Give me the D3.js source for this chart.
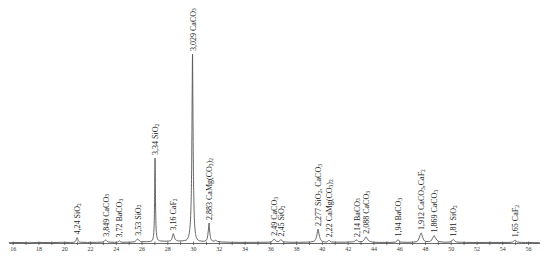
<!DOCTYPE html>
<html>
<head>
<meta charset="utf-8">
<script src="https://cdn.jsdelivr.net/npm/d3@7"></script>
<style>
  body { margin: 0; background: #fff; }
  svg { display: block; }
</style>
</head>
<body>
<script>
// diffraction trace: [2theta, intensity]
const trace = [
  [15.7, 0.3], [16.5, 0.5], [17.3, 0.3], [18.2, 0.6], [19.0, 0.4], [19.8, 0.7], [20.5, 0.5],
  [20.75, 0.8], [20.88, 1.8], [20.95, 3.6], [21.0, 5.5], [21.05, 3.6], [21.12, 1.8], [21.25, 0.8],
  [21.8, 0.6], [22.5, 0.7],
  [22.98, 0.9], [23.1, 1.6], [23.17, 2.6], [23.22, 3.2], [23.27, 2.6], [23.35, 1.5], [23.5, 0.9],
  [23.9, 0.7],
  [24.12, 0.8], [24.22, 1.5], [24.28, 2.4], [24.34, 1.5], [24.45, 0.8],
  [25.0, 0.8], [25.3, 1.0],
  [25.45, 1.2], [25.58, 2.4], [25.65, 3.6], [25.7, 4.2], [25.76, 3.4], [25.85, 2.0], [26.0, 1.3],
  [26.4, 1.3], [26.65, 1.6],
  [26.8, 2.2], [26.9, 5], [26.97, 14], [27.01, 38], [27.05, 85], [27.09, 40], [27.13, 16], [27.2, 6], [27.3, 3],
  [27.5, 2.0], [27.8, 1.8], [28.1, 1.9],
  [28.25, 2.4], [28.36, 4.5], [28.43, 8], [28.47, 9.5], [28.52, 7.5], [28.6, 4.2], [28.72, 2.6],
  [28.9, 2.0], [29.2, 2.2], [29.45, 2.8],
  [29.6, 5], [29.73, 12], [29.83, 32], [29.9, 85], [29.94, 160], [29.96, 189], [29.98, 158], [30.02, 85], [30.08, 34], [30.16, 13], [30.28, 5],
  [30.5, 2.2], [30.8, 1.8],
  [31.0, 2.4], [31.12, 6], [31.19, 13], [31.24, 20], [31.29, 12], [31.36, 5.5], [31.48, 2.4],
  [31.62, 1.8], [31.76, 2.8], [31.88, 1.6],
  [32.3, 1.0], [33.0, 0.7], [34.0, 0.6], [35.0, 0.7], [35.8, 0.8],
  [36.05, 1.0], [36.18, 2.4], [36.25, 3.6], [36.29, 4.2], [36.35, 3.2], [36.45, 1.8], [36.6, 1.4],
  [36.7, 2.0], [36.78, 3.0], [36.83, 3.4], [36.9, 2.4], [37.0, 1.2],
  [37.5, 0.8], [38.2, 0.7], [38.9, 0.9],
  [39.35, 1.5], [39.5, 3.5], [39.6, 7], [39.66, 11.5], [39.7, 14], [39.75, 11], [39.82, 6.5], [39.92, 3.2], [40.08, 1.5],
  [40.3, 1.0],
  [40.42, 1.4], [40.5, 2.2], [40.56, 2.8], [40.62, 2.0], [40.75, 1.0],
  [41.3, 0.8], [42.0, 0.9],
  [42.45, 1.2], [42.6, 2.4], [42.69, 3.0], [42.78, 2.0], [42.95, 1.2],
  [43.15, 1.6], [43.3, 3.6], [43.38, 5.5], [43.43, 6.2], [43.5, 4.8], [43.6, 2.8], [43.75, 1.6],
  [43.9, 1.0], [44.5, 0.6], [45.3, 0.6],
  [45.7, 0.9], [45.83, 2.2], [45.92, 3.4], [46.0, 2.0], [46.15, 0.9],
  [46.6, 0.7], [47.1, 0.9],
  [47.35, 1.5], [47.52, 4], [47.62, 7.5], [47.71, 10], [47.78, 7.5], [47.88, 3.8], [48.05, 1.6],
  [48.3, 1.4],
  [48.45, 2.0], [48.58, 4.5], [48.67, 6.8], [48.72, 7.4], [48.8, 5.5], [48.92, 3], [49.1, 1.4],
  [49.6, 0.8],
  [49.95, 1.0], [50.1, 2.4], [50.2, 3.6], [50.3, 2.2], [50.45, 1.0],
  [51.2, 0.6], [52.0, 0.5], [53.0, 0.6], [54.0, 0.5], [54.6, 0.6],
  [54.8, 1.0], [54.93, 2.2], [55.0, 2.8], [55.08, 2.0], [55.2, 0.9],
  [55.8, 0.5], [56.5, 0.4], [56.9, 0.4]
];

// peak labels
const peakTheta = [21.0, 23.22, 24.28, 25.7, 27.05, 28.47, 29.96, 31.24, 36.29, 36.83,
                   39.7, 40.56, 42.69, 43.43, 45.92, 47.71, 48.72, 50.2, 55.0];
const peakD = ["4,24", "3,849", "3,72", "3,53", "3,34", "3,16", "3,029", "2,883", "2,49", "2,45",
               "2,277", "2,22", "2,14", "2,088", "1,94", "1,912", "1,869", "1,81", "1,65"];
const peakPhase = ["SiO2", "CaCO3", "BaCO3", "SiO2", "SiO2", "CaF2", "CaCO3", "CaMg(CO3)2", "CaCO3", "SiO2",
                   "SiO2, CaCO3", "CaMg(CO3)2", "BaCO3", "CaCO3", "BaCO3", "CaCO3,CaF2", "CaCO3", "SiO2", "CaF2"];

const tickValues = d3.range(16, 57);

const width = 550, height = 261;
const baseY = 243;

const svg = d3.select('body')
  .append('svg')
  .attr('width', width)
  .attr('height', height);

const x = d3.scaleLinear()
  .domain([15.7, 56.9])
  .range([8.8, 539.6]);

const y = d3.scaleLinear()
  .domain([0, 189])
  .range([baseY, 54]);

// axis, labels only on even values
const axis = svg.append('g')
  .attr('transform', `translate(0,${baseY})`)
  .call(d3.axisBottom(x)
    .tickValues(tickValues)
    .tickSizeInner(2)
    .tickSizeOuter(0)
    .tickPadding(2)
    .tickFormat(d => d));

axis.select('.domain').attr('stroke', '#444').attr('stroke-width', 0.8);
axis.selectAll('.tick line')
  .attr('y1', -1.5)
  .attr('stroke', '#444')
  .attr('stroke-width', 0.7);
axis.selectAll('.tick text')
  .filter(d => d % 2 !== 0)
  .remove();
axis.selectAll('.tick text')
  .attr('fill', '#333')
  .attr('font-family', '"Liberation Serif", "Times New Roman", serif')
  .attr('font-size', 6);

// trace
const line = d3.line()
  .x(d => x(d[0]))
  .y(d => y(d[1]))
  .curve(d3.curveMonotoneX);

svg.append('path')
  .datum(trace)
  .attr('d', line)
  .attr('fill', 'none')
  .attr('stroke', '#555')
  .attr('stroke-width', 0.9);

// labels above the peaks
function peakTop(t) {
  return d3.max(trace.filter(p => Math.abs(p[0] - t) < 0.06), p => p[1]);
}

peakTheta.forEach((t, i) => {
  const txt = svg.append('text')
    .attr('transform', `translate(${x(t)},${y(peakTop(t)) - 3}) rotate(-90)`)
    .attr('text-anchor', 'start')
    .attr('dominant-baseline', 'central')
    .attr('font-family', '"Liberation Serif", "Times New Roman", serif')
    .attr('font-size', 8)
    .attr('fill', '#222');

  txt.append('tspan').text(peakD[i] + ' ');

  let shifted = false;
  peakPhase[i].split(/(\d+)/).filter(s => s !== '').forEach(s => {
    if (/^\d+$/.test(s)) {
      txt.append('tspan').attr('dy', 1.8).attr('font-size', 5.5).text(s);
      shifted = true;
    } else {
      txt.append('tspan').attr('dy', shifted ? -1.8 : null).text(s);
      shifted = false;
    }
  });
});
</script>
</body>
</html>
